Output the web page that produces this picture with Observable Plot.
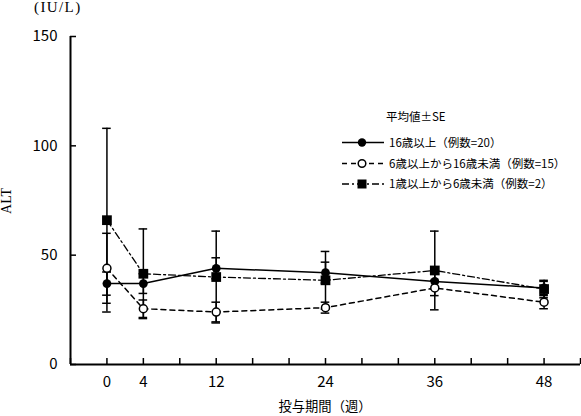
<!DOCTYPE html>
<html><head><meta charset="utf-8">
<script src="https://cdn.jsdelivr.net/npm/d3@7"></script>
<script src="https://cdn.jsdelivr.net/npm/@observablehq/plot@0.6"></script>
<style>
body{margin:0;background:#fff;}
#wrap{position:relative;width:581px;height:416px;overflow:hidden;font-family:"Noto Sans CJK JP",sans-serif;color:#000;}
#wrap > svg{position:absolute;left:0;top:0;}
.t{position:absolute;white-space:nowrap;color:#000;line-height:1;}
</style></head><body><div id="wrap"></div>
<script>
// ---- data ----
const weeks = [0, 4, 12, 24, 36, 48];
const groups = ["16歳以上（例数=20）", "6歳以上から16歳未満（例数=15）", "1歳以上から6歳未満（例数=2）"];
const meanA = [37, 37, 44, 42, 38, 35];
const seA   = [5.3, 4.5, 4.8, 4.8, 3.5, 3];
const meanB = [44, 25.5, 24, 26, 35, 28.5];
const seB   = [16, 4, 4.5, 2.5, 3.5, 3];
const meanC = [66, 41.5, 40, 38.5, 43, 34.5];
const seC   = [42, 20.5, 21, 13.2, 18, 4];
const yTicks = [0, 50, 100, 150];
const xTickLabels = [0, 4, 12, 24, 36, 48];
const xTickMarks = d3.range(-4, 53, 4);
const legendTitle = "平均値±SE";
const xTitle = "投与期間（週）";
const yTitle = "ALT";
const unitLabel = "(IU/L)";

const means = [meanA, meanB, meanC];
const ses = [seA, seB, seC];
const data = [];
groups.forEach((g, i) => weeks.forEach((w, j) => data.push({group: g, gi: i, week: w, mean: means[i][j], se: ses[i][j]})));
const byG = i => data.filter(d => d.gi === i);

const W = 581, H = 416, mL = 70, mR = 1, mT = 36, mB = 52;
const xDom = [-4, 52], yDom = [0, 150];
const tickLenY = 6 * (yDom[1] - yDom[0]) / (H - mT - mB);
const tickLenX = 6 * (xDom[1] - xDom[0]) / (W - mL - mR);
const capW = 4.3 * (xDom[1] - xDom[0]) / (W - mL - mR);
const dashB = "5,4";
const dashC = "7,3,2,3";

const chart = Plot.plot({
  width: W, height: H, marginLeft: mL, marginRight: mR, marginTop: mT, marginBottom: mB,
  x: {domain: xDom},
  y: {domain: yDom},
  style: {fontFamily: '"Noto Sans CJK JP", sans-serif', fontSize: "15px", color: "#000", background: "transparent", overflow: "visible"},
  marks: [
    Plot.ruleX(data, {x: "week", y1: d => d.mean - d.se, y2: d => d.mean + d.se, stroke: "#000", strokeWidth: 1.5}),
    Plot.ruleY(data, {y: d => d.mean + d.se, x1: d => d.week - capW, x2: d => d.week + capW, stroke: "#000", strokeWidth: 1.5}),
    Plot.ruleY(data, {y: d => d.mean - d.se, x1: d => d.week - capW, x2: d => d.week + capW, stroke: "#000", strokeWidth: 1.5}),
    Plot.line(byG(0), {x: "week", y: "mean", stroke: "#000", strokeWidth: 1.5}),
    Plot.line(byG(1), {x: "week", y: "mean", stroke: "#000", strokeWidth: 1.5, strokeDasharray: dashB}),
    Plot.line(byG(2), {x: "week", y: "mean", stroke: "#000", strokeWidth: 1.3, strokeDasharray: dashC}),
    Plot.dot(byG(2), {x: "week", y: "mean", symbol: "square", r: 5.5, fill: "#000"}),
    Plot.dot(byG(0), {x: "week", y: "mean", r: 4.4, fill: "#000"}),
    Plot.dot(byG(1), {x: "week", y: "mean", r: 4, fill: "#fff", stroke: "#000", strokeWidth: 1.5}),
    Plot.ruleY([yDom[0]], {stroke: "#000", strokeWidth: 2}),
    Plot.ruleX([xDom[0]], {y1: yDom[0], y2: yDom[1], stroke: "#000", strokeWidth: 2}),
    Plot.ruleX(xTickMarks, {x: d => d, y1: yDom[0], y2: yDom[0] + tickLenY, stroke: "#000", strokeWidth: 1.5}),
    Plot.ruleY(yTicks, {y: d => d, x1: xDom[0], x2: xDom[0] + tickLenX, stroke: "#000", strokeWidth: 1.5}),
    Plot.axisX(xTickLabels, {tickSize: 0, tickPadding: 12, fontSize: 15, label: null}),
    Plot.axisY(yTicks, {tickSize: 0, tickPadding: 13, fontSize: 15, label: null})
  ]
});
const wrap = document.getElementById("wrap");
wrap.appendChild(chart);

function addText(txt, css) {
  const el = document.createElement("div");
  el.className = "t";
  el.textContent = txt;
  Object.assign(el.style, css);
  wrap.appendChild(el);
  return el;
}
addText(unitLabel, {left: "34px", top: "0px", fontFamily: '"Liberation Serif", serif', fontSize: "15px", letterSpacing: "1.4px"});
addText(yTitle, {left: "7px", top: "201px", fontFamily: '"Liberation Serif", serif', fontSize: "14px", transform: "translate(-50%,-50%) rotate(-90deg)"});
addText(xTitle, {left: "325px", top: "406px", fontSize: "13.3px", transform: "translate(-50%,-50%)"});

// legend
addText(legendTitle, {left: "386px", top: "117px", fontSize: "11.5px", transform: "translateY(-50%)"});
const rowsY = [142.5, 163.5, 184];
const leg = d3.select(wrap).append("svg").attr("width", W).attr("height", H).style("pointer-events", "none");
const dashes = [null, dashB, dashC];
groups.forEach((g, i) => {
  const y = rowsY[i];
  leg.append("line").attr("x1", 342).attr("x2", 384).attr("y1", y).attr("y2", y)
    .attr("stroke", "#000").attr("stroke-width", 1.5).attr("stroke-dasharray", dashes[i]);
  if (i === 0) leg.append("circle").attr("cx", 362).attr("cy", y).attr("r", 4.2).attr("fill", "#000");
  if (i === 1) leg.append("circle").attr("cx", 362).attr("cy", y).attr("r", 3.8).attr("fill", "#fff").attr("stroke", "#000").attr("stroke-width", 1.5);
  if (i === 2) leg.append("rect").attr("x", 357.5).attr("y", y - 4.5).attr("width", 9).attr("height", 9).attr("fill", "#000");
  addText(g, {left: "389px", top: y + "px", fontSize: "11.5px", transform: "translateY(-50%)"});
});
</script></body></html>
